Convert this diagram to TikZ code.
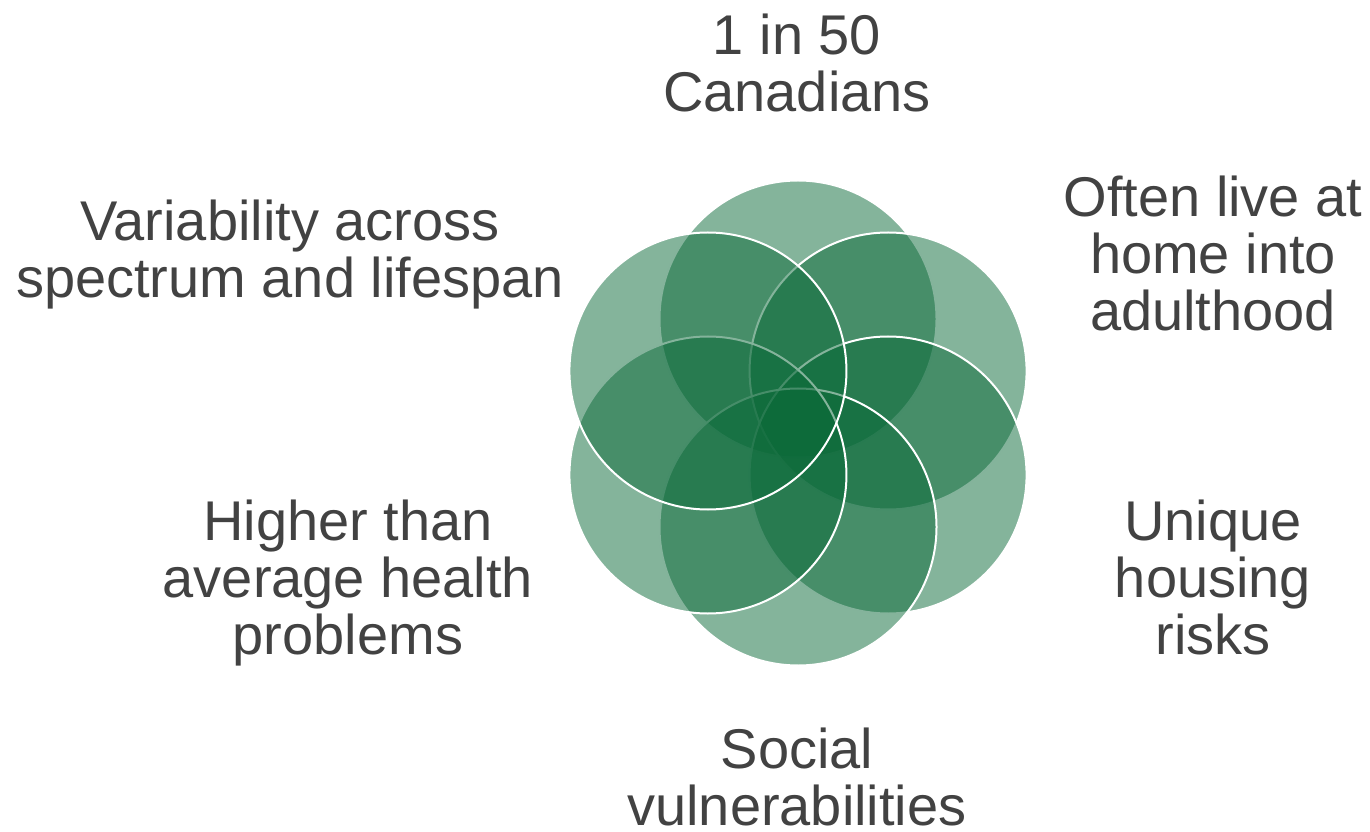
\documentclass[tikz,border=0pt]{standalone}
\usepackage{fontspec}
\setmainfont{Liberation Sans}
\usepackage{xcolor}
\usepackage{tikz}
\definecolor{LeafGreen}{rgb}{0.04, 0.41, 0.22}
\definecolor{TextGray}{rgb}{0.26, 0.26, 0.26}

\begin{document}
\begin{tikzpicture}[x=1pt, y=1pt, every node/.style={font=\fontsize{56}{57}\selectfont, text=TextGray, align=center, anchor=base, inner sep=0pt}]
		\useasboundingbox (0, 0) rectangle (1370, 831);
		
		\foreach \a in {90, 30, -30, -90, -150, 150}
			\filldraw [fill=LeafGreen, fill opacity=0.5, draw=white, line width=2pt] (798, 408) ++(\a:104) circle (138.5pt);
		
		\node (canadians) at (797, 719) {1 in 50\\Canadians};
		
		\node (home) at (1213, 500) {Often live at\\home into\\adulthood};
		
		\node (housing) at (1213, 177) {Unique\\housing\\risks};
		
		\node (social) at (797, 6) {Social\\vulnerabilities};
		
		\node (health) at (348, 177) {Higher than\\average health\\problems};
		
		\node (variability) at (290, 533) {Variability across\\spectrum and lifespan};
	\end{tikzpicture}
\end{document}
